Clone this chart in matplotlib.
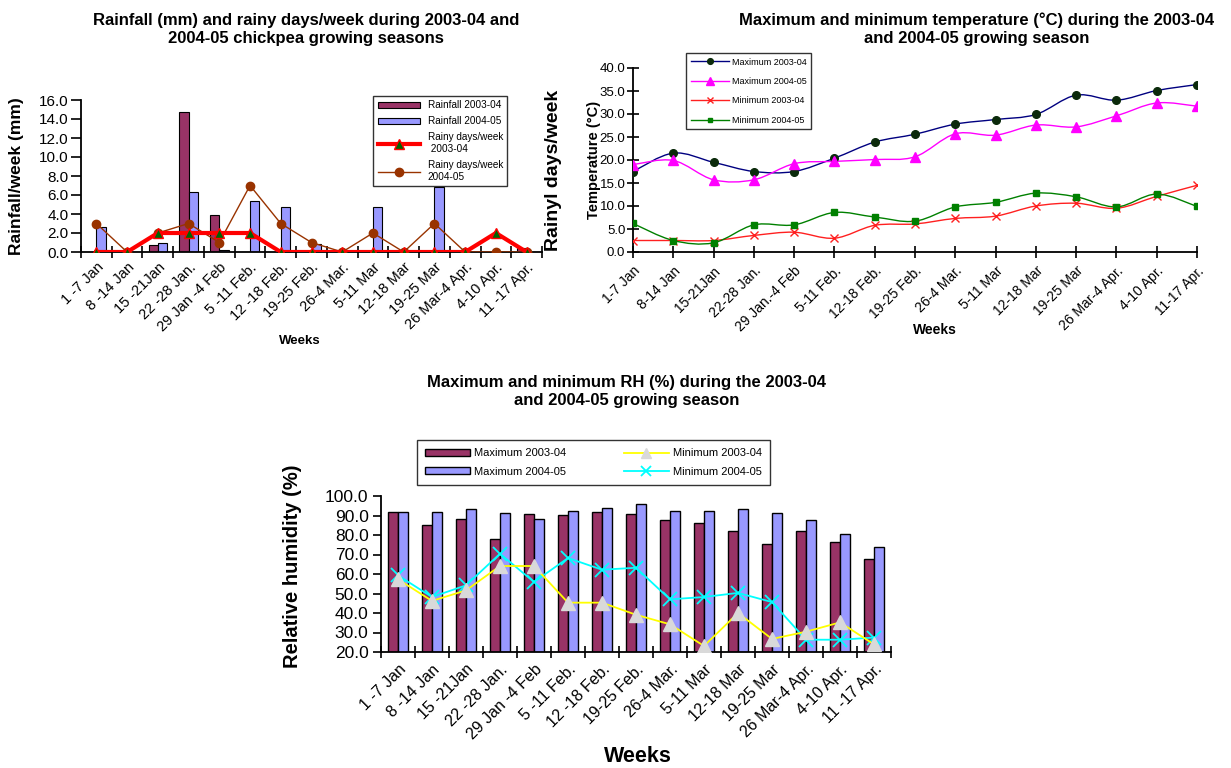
import matplotlib
matplotlib.use("Agg")
import matplotlib.pyplot as plt
from matplotlib.path import Path
from matplotlib.patches import PathPatch
import numpy as np

plt.rcParams['font.family'] = ['Liberation Sans', 'DejaVu Sans']

# week labels (as printed on each panel)
weeks_rain = ["1 -7 Jan", "8 -14 Jan", "15 -21Jan", "22 -28 Jan.", "29 Jan -4 Feb",
              "5 -11 Feb.", "12 -18 Feb.", "19-25 Feb.", "26-4 Mar.", "5-11 Mar",
              "12-18 Mar", "19-25 Mar", "26 Mar-4 Apr.", "4-10 Apr.", "11 -17 Apr."]
weeks_temp = ["1-7 Jan", "8-14 Jan", "15-21Jan", "22-28 Jan.", "29 Jan.-4 Feb",
              "5-11 Feb.", "12-18 Feb.", "19-25 Feb.", "26-4 Mar.", "5-11 Mar",
              "12-18 Mar", "19-25 Mar", "26 Mar-4 Apr.", "4-10 Apr.", "11-17 Apr."]
weeks_rh = weeks_rain

# rainfall (mm/week) and rainy days/week
rain_0304 = [0, 0, 0.7, 14.7, 3.9, 0, 0, 0, 0, 0, 0, 0, 0, 0, 0.4]
rain_0405 = [2.6, 0, 0.9, 6.3, 0.2, 5.4, 4.7, 0.8, 0, 4.7, 0, 6.8, 0, 0, 0]
rdays_0304 = [0, 0, 2, 2, 2, 2, 0, 0, 0, 0, 0, 0, 0, 2, 0]
rdays_0405 = [3, 0, 2, 3, 1, 7, 3, 1, 0, 2, 0, 3, 0, 0, 0]

# temperature (deg C)
tmax_0304 = [17.5, 21.5, 19.5, 17.5, 17.5, 20.4, 23.9, 25.6, 27.8, 28.8, 29.9, 34.1, 33.0, 35.1, 36.4]
tmax_0405 = [19.0, 19.9, 15.7, 15.7, 19.2, 19.7, 20.1, 20.7, 25.7, 25.4, 27.6, 27.2, 29.6, 32.4, 31.7]
tmin_0304 = [2.5, 2.5, 2.5, 3.6, 4.3, 3.0, 5.8, 6.1, 7.3, 7.8, 10.0, 10.6, 9.5, 12.1, 14.5]
tmin_0405 = [6.2, 2.5, 2.0, 5.9, 5.9, 8.6, 7.6, 6.7, 9.8, 10.8, 12.8, 12.0, 9.8, 12.6, 9.9]

# relative humidity (%)
rhmax_0304 = [91.8, 85.0, 88.4, 77.9, 90.9, 90.4, 91.8, 90.9, 87.5, 86.2, 82.1, 75.2, 82.1, 76.6, 67.5]
rhmax_0405 = [91.8, 91.8, 93.2, 91.1, 88.4, 92.5, 93.7, 95.9, 92.5, 92.5, 93.2, 91.1, 87.5, 80.7, 73.8]
rhmin_0304 = [57.3, 46.2, 51.6, 64.1, 64.1, 45.3, 45.3, 39.1, 34.2, 23.1, 40.0, 26.7, 30.4, 35.2, 23.9]
rhmin_0405 = [59.3, 48.2, 54.2, 70.4, 55.9, 68.2, 62.2, 63.2, 47.0, 48.2, 50.3, 45.6, 26.3, 26.3, 27.4]

MAROON = '#993366'
LAV = '#9999FF'


def smooth(ax, x, y, color, lw=1.0):
    # Excel-style smoothed line through the points (cubic Bezier segments)
    n = len(x)
    verts = [(x[0], y[0])]
    codes = [Path.MOVETO]
    for i in range(n - 1):
        xa, ya = x[max(i - 1, 0)], y[max(i - 1, 0)]
        xb, yb = x[min(i + 2, n - 1)], y[min(i + 2, n - 1)]
        c1 = (x[i] + (x[i + 1] - xa) / 6, y[i] + (y[i + 1] - ya) / 6)
        c2 = (x[i + 1] - (xb - x[i]) / 6, y[i + 1] - (yb - y[i]) / 6)
        verts += [c1, c2, (x[i + 1], y[i + 1])]
        codes += [Path.CURVE4] * 3
    ax.add_patch(PathPatch(Path(verts, codes), fc='none', ec=color, lw=lw, zorder=2))


fig = plt.figure(figsize=(12.31, 7.68), dpi=100)
W, H = 1231.0, 768.0


def axes_px(x0, x1, ytop, ybot):
    return fig.add_axes([x0 / W, 1 - ybot / H, (x1 - x0) / W, (ybot - ytop) / H])


def ftext(px, py, s, **kw):
    return fig.text(px / W, 1 - py / H, s, ha='center', va='center', **kw)


def style(ax):
    for s in ['top', 'right']:
        ax.spines[s].set_visible(False)
    ax.spines['left'].set_linewidth(1.3)
    ax.spines['bottom'].set_linewidth(1.3)
    ax.set_facecolor('none')


# ---------------- rainfall panel ----------------
n = len(weeks_rain)
x = np.arange(n)
ax1 = axes_px(81, 542, 100, 252)
style(ax1)
b1 = ax1.bar(x - 0.15, rain_0304, width=0.3, color=MAROON, edgecolor='black', lw=0.8,
             label='Rainfall 2003-04', zorder=2)
b2 = ax1.bar(x + 0.15, rain_0405, width=0.3, color=LAV, edgecolor='black', lw=0.8,
             label='Rainfall 2004-05', zorder=2)
l1, = ax1.plot(x, rdays_0304, color='red', lw=3, marker='^', ms=6.5, mfc='#006400', mec='red',
               mew=1, label='Rainy days/week\n 2003-04', zorder=4)
l2, = ax1.plot(x, rdays_0405, color='#993300', lw=1, marker='o', ms=6, mfc='#993300', mec='#993300',
               label='Rainy days/week\n2004-05', zorder=3)
ax1.set_xlim(-0.5, n - 0.5)
ax1.set_ylim(0, 16)
ax1.set_yticks(np.arange(0, 17, 2))
ax1.set_yticklabels([f'{v:.1f}' for v in np.arange(0, 17, 2)], fontsize=11)
ax1.set_xticks(x)
ax1.set_xticklabels(weeks_rain, rotation=45, ha='right', rotation_mode='anchor', fontsize=10.5)
ax1.tick_params(axis='x', length=0, pad=6)
ax1.set_xticks(np.arange(-0.5, n), minor=True)
ax1.tick_params(axis='x', which='minor', direction='inout', length=9, width=1.2)
ax1.tick_params(axis='y', direction='out', length=7, width=1.2, pad=2)
ftext(17, 176, 'Rainfall/week (mm)', rotation=90, fontsize=12.5, fontweight='bold')
ftext(300, 341, 'Weeks', fontsize=9.5, fontweight='bold')
ftext(306, 29, 'Rainfall (mm) and rainy days/week during 2003-04 and\n2004-05 chickpea growing seasons',
      fontsize=12, fontweight='bold', linespacing=1.25)
leg1 = ax1.legend([b1, b2, l1, l2], [b1.get_label(), b2.get_label(), l1.get_label(), l2.get_label()],
                  loc='upper left', bbox_to_anchor=(373 / W, 1 - 96 / H), bbox_transform=fig.transFigure,
                  borderaxespad=0, fontsize=7.2, frameon=True, fancybox=False, edgecolor='black',
                  handlelength=4.2, borderpad=0.45, labelspacing=0.6, handleheight=0.6, handletextpad=0.8)
leg1.get_frame().set_linewidth(1.0)

ftext(553, 170, 'Rainyl days/week', rotation=90, fontsize=14, fontweight='bold')

# ---------------- temperature panel ----------------
ax2 = axes_px(633, 1197, 68, 252)
style(ax2)
series = [(tmax_0304, '#000080', dict(marker='o', ms=5.5, mfc='#0b2a0b', mec='#0b2a0b'), 'Maximum 2003-04'),
          (tmax_0405, '#FF00FF', dict(marker='^', ms=7, mfc='#FF00FF', mec='#FF00FF'), 'Maximum 2004-05'),
          (tmin_0304, '#FF2020', dict(marker='x', ms=6, mec='#FF2020', mew=1.0), 'Minimum 2003-04'),
          (tmin_0405, '#008000', dict(marker='s', ms=4, mfc='#008000', mec='#008000'), 'Minimum 2004-05')]
for vals, col, mk, lab in series:
    smooth(ax2, x, vals, col, lw=1.0)
    ax2.plot(x, vals, ls='none', zorder=3, **mk)
    mk_leg = dict(mk, ms=mk['ms'] * 0.75)
    ax2.plot([], [], color=col, lw=1.0, label=lab, **mk_leg)
ax2.set_xlim(0, n - 1)
ax2.set_ylim(0, 40)
ax2.set_yticks(np.arange(0, 41, 5))
ax2.set_yticklabels([f'{v:.1f}' for v in np.arange(0, 41, 5)], fontsize=9.5)
ax2.set_xticks(x)
ax2.set_xticklabels(weeks_temp, rotation=45, ha='right', rotation_mode='anchor', fontsize=10)
ax2.tick_params(axis='x', direction='inout', length=9, width=1.2, pad=4)
ax2.tick_params(axis='y', direction='inout', length=9, width=1.2, pad=1)
ftext(594, 160, 'Temperature (°C)', rotation=90, fontsize=10.5, fontweight='bold')
ftext(935, 330, 'Weeks', fontsize=10, fontweight='bold')
ftext(977, 29, 'Maximum and minimum temperature (°C) during the 2003-04\nand 2004-05 growing season',
      fontsize=12, fontweight='bold', linespacing=1.25)
leg2 = ax2.legend(loc='upper left', bbox_to_anchor=(686 / W, 1 - 53 / H), bbox_transform=fig.transFigure,
                  borderaxespad=0, fontsize=6.5, frameon=True, fancybox=False, edgecolor='black',
                  handlelength=4.3, borderpad=0.5, labelspacing=1.15, handletextpad=0.3)
leg2.get_frame().set_linewidth(1.0)

# ---------------- relative humidity panel ----------------
ax3 = axes_px(381, 891, 496, 652)
style(ax3)
ax3.bar(x - 0.15, rhmax_0304, width=0.3, bottom=0, color=MAROON, edgecolor='black', lw=1.0,
        label='Maximum 2003-04', zorder=2)
ax3.bar(x + 0.15, rhmax_0405, width=0.3, bottom=0, color=LAV, edgecolor='black', lw=1.0,
        label='Maximum 2004-05', zorder=2)
ax3.plot(x, rhmin_0304, color='#FFFF00', lw=1.3, marker='^', ms=10, mfc='#D9D9D9', mec='#D9D9D9',
         label='Minimum 2003-04', zorder=4)
ax3.plot(x, rhmin_0405, color='#00FFFF', lw=1.3, marker='x', ms=10, mec='#00FFFF', mew=1.3,
         label='Minimum 2004-05', zorder=3)
ax3.set_xlim(-0.5, n - 0.5)
ax3.set_ylim(20, 100)
ax3.set_yticks(np.arange(20, 101, 10))
ax3.set_yticklabels([f'{v:.1f}' for v in np.arange(20, 101, 10)], fontsize=12.5)
ax3.set_xticks(x)
ax3.set_xticklabels(weeks_rh, rotation=45, ha='right', rotation_mode='anchor', fontsize=11.5)
ax3.tick_params(axis='x', length=0, pad=7)
ax3.set_xticks(np.arange(-0.5, n), minor=True)
ax3.tick_params(axis='x', which='minor', direction='inout', length=9, width=1.2)
ax3.tick_params(axis='y', direction='out', length=6, width=1.2, pad=3)
ftext(293, 566, 'Relative humidity (%)', rotation=90, fontsize=14.5, fontweight='bold')
ftext(638, 757, 'Weeks', fontsize=15.5, fontweight='bold')
ftext(627, 392, 'Maximum and minimum RH (%) during the 2003-04\nand 2004-05 growing season',
      fontsize=12, fontweight='bold', linespacing=1.25)
h3, lab3 = ax3.get_legend_handles_labels()
order = [2, 3, 0, 1]
leg3 = ax3.legend([h3[i] for i in order], [lab3[i] for i in order],
                  loc='upper left', bbox_to_anchor=(417 / W, 1 - 440 / H), bbox_transform=fig.transFigure,
                  borderaxespad=0, ncol=2, fontsize=8, frameon=True, fancybox=False, edgecolor='black',
                  handlelength=4, handleheight=0.6, columnspacing=5.2, borderpad=0.75, labelspacing=0.75,
                  handletextpad=0.4, markerscale=0.7)
leg3.get_frame().set_linewidth(1.0)

fig.savefig('out.png', dpi=100, facecolor='white')
